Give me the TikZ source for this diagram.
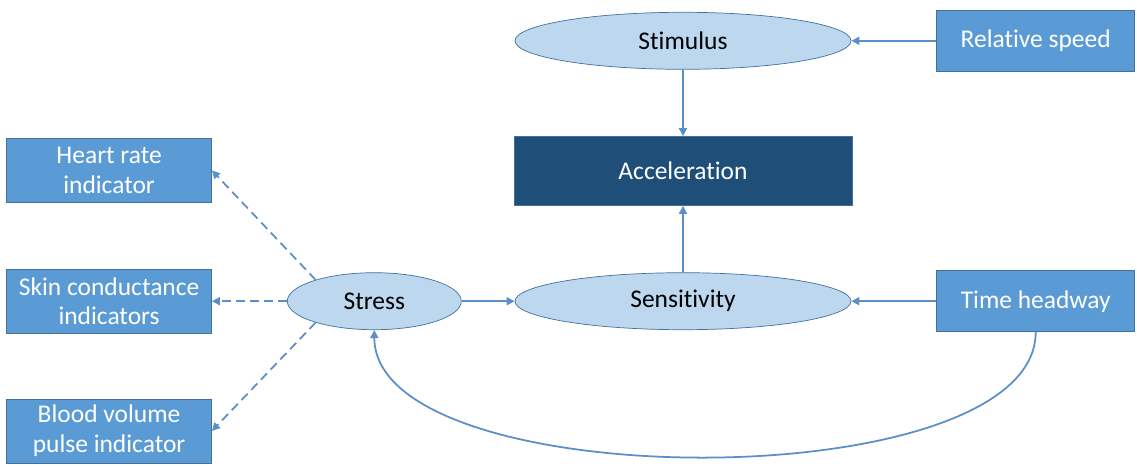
\documentclass[tikz,border=0pt]{standalone}
\usepackage{fontspec}
\setmainfont{Carlito}[Ligatures=NoCommon]
\usepackage{xcolor}
\usepackage{tikz}
\usetikzlibrary{shapes.geometric, arrows.meta, positioning}

\definecolor{boxblue}{HTML}{5B9BD5}
\definecolor{boxedge}{HTML}{41719C}
\definecolor{lightblue}{HTML}{BDD7EE}
\definecolor{darkblue}{HTML}{1F4E79}
\definecolor{linkblue}{HTML}{5B8FC7}

\begin{document}
\begin{tikzpicture}[
    node distance=1.33cm and 1.7cm,
    font=\fontsize{14.5}{16.8}\selectfont,
    inputbox/.style={rectangle, draw=boxedge, fill=boxblue, text=white, minimum width=3.96cm, minimum height=1.22cm, align=center, inner sep=0pt},
    measure/.style={rectangle, draw=boxedge, fill=boxblue, text=white, minimum width=4.1cm, minimum height=1.28cm, align=center, inner sep=0pt},
    state/.style={ellipse, draw=boxedge, fill=lightblue, minimum width=6.72cm, minimum height=1.14cm, inner sep=0pt},
    output/.style={rectangle, draw=boxedge, fill=darkblue, text=white, minimum width=6.76cm, minimum height=1.38cm, inner sep=0pt},
    arrow/.style={-{Triangle[length=1.6mm, width=1.6mm]}, draw=linkblue, line width=1pt},
    dasharrow/.style={arrow, dashed, dash pattern=on 5pt off 3pt},
]
    \useasboundingbox (0,0) rectangle (22.74,-9.32);

    % Middle column
    \node[output] (accel) at (13.66,-3.42) {Acceleration};
    \node[state, above=of accel] (stimulus) {Stimulus};
    \node[state, below=of accel] (sensitivity) {Sensitivity};

    % Inputs on the right
    \node[inputbox, right=of stimulus] (speed) {Relative speed};
    \node[inputbox, right=of sensitivity] (headway) {Time headway};

    % Stress and its indicators
    \node[state, minimum width=3.48cm, left=1.06cm of sensitivity] (stress) {Stress};
    \node[measure, left=1.5cm of stress] (skin) {Skin conductance\\indicators};
    \node[measure, above=1.32cm of skin] (heart) {Heart rate\\indicator};
    \node[measure, below=1.3cm of skin] (blood) {Blood volume\\pulse indicator};

    % Arrows
    \draw[arrow] (speed) -- (stimulus);
    \draw[arrow] (stimulus) -- (accel);
    \draw[arrow] (sensitivity) -- (accel);
    \draw[arrow] (headway) -- (sensitivity);
    \draw[arrow] (stress) -- (sensitivity);
    \draw[arrow] (headway.south) .. controls +(0,-3.35) and +(0,-3.35) .. (stress.south);
    \draw[dasharrow] (stress.160) -- (heart.east);
    \draw[dasharrow] (stress.west) -- (skin.east);
    \draw[dasharrow] (stress.200) -- (blood.east);
\end{tikzpicture}
\end{document}
